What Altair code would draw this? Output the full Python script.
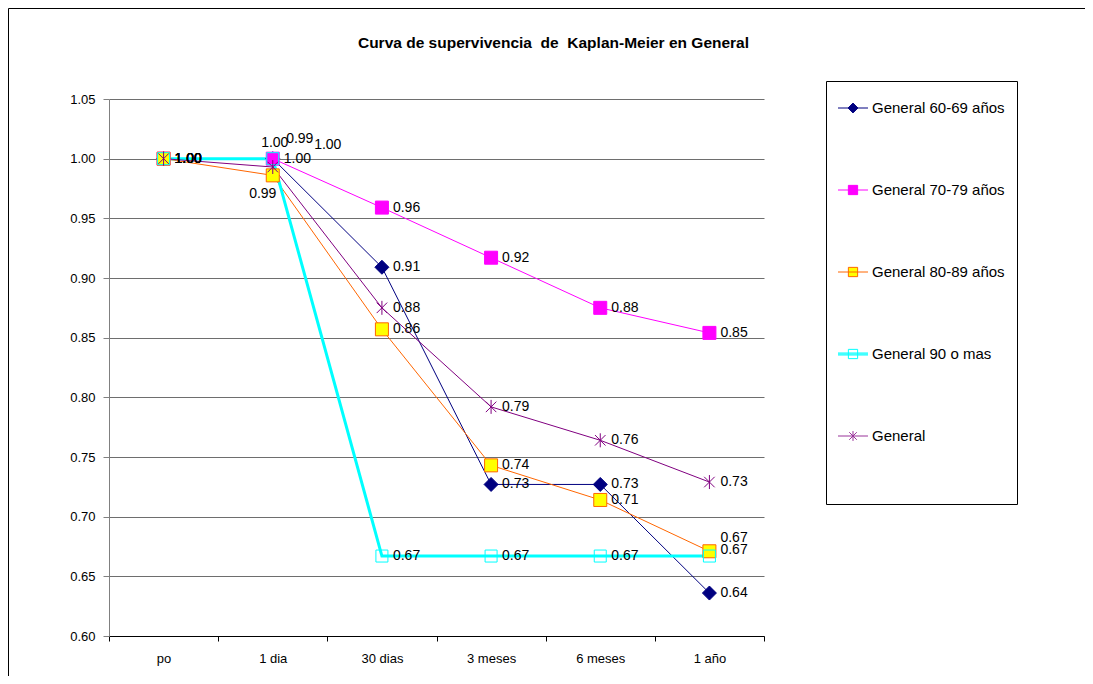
import altair as alt
import pandas as pd

categories = ["po", "1 dia", "30 dias", "3 meses", "6 meses", "1 año"]
series = ["General 60-69 años", "General 70-79 años", "General 80-89 años",
          "General 90 o mas", "General"]
v_60_69 = [1.00, 1.00, 0.909, 0.727, 0.727, 0.636]
v_70_79 = [1.00, 1.00, 0.959, 0.917, 0.875, 0.854]
v_80_89 = [1.00, 0.986, 0.857, 0.743, 0.714, 0.671]
v_90 = [1.00, 1.00, 0.667, 0.667, 0.667, 0.667]
v_general = [1.00, 0.993, 0.875, 0.792, 0.764, 0.729]
y_ticks = [0.60, 0.65, 0.70, 0.75, 0.80, 0.85, 0.90, 0.95, 1.00, 1.05]
title_text = "Curva de supervivencia\u00a0 de\u00a0 Kaplan-Meier en General"

rows = []
for s, vals in zip(series, [v_60_69, v_70_79, v_80_89, v_90, v_general]):
    for c, v in zip(categories, vals):
        rows.append({"series": s, "cat": c, "value": v})
df = pd.DataFrame(rows)

FONT = "Liberation Sans"
STAR = "M0,-1L0,1M-0.75,-0.75L0.75,0.75M-0.75,0.75L0.75,-0.75"

styles = {
    "General 60-69 años": dict(line="#000080", lw=1, shape="diamond", fill="#000080", stroke="#000080", size=196, filled=True),
    "General 70-79 años": dict(line="#FF00FF", lw=1, shape="square", fill="#FF00FF", stroke="#FF00FF", size=169, filled=True),
    "General 80-89 años": dict(line="#FF6600", lw=1, shape="square", fill="#FFFF00", stroke="#FF6600", size=169, filled=True),
    "General 90 o mas": dict(line="#00FFFF", lw=3, shape="square", fill="transparent", stroke="#00FFFF", size=144, filled=False),
    "General": dict(line="#800080", lw=1, shape=STAR, fill="transparent", stroke="#800080", size=196, filled=False),
}

x_enc = alt.X("cat:N", sort=categories,
              scale=alt.Scale(domain=categories, paddingInner=0, paddingOuter=0),
              axis=alt.Axis(title=None, labelAngle=0, labelFont=FONT, labelFontSize=13,
                            labelColor="black", labelPadding=11, tickBand="extent",
                            tickSize=5, tickColor="black", domainColor="black",
                            grid=False))
y_enc = alt.Y("value:Q", scale=alt.Scale(domain=[0.60, 1.05], nice=False, zero=False),
              axis=alt.Axis(title=None, values=y_ticks, format=".2f", labelFont=FONT,
                            labelFontSize=13, labelColor="black", tickSize=6,
                            labelPadding=8, tickColor="#808080", domainColor="#808080",
                            grid=True, gridColor="#6e6e6e", gridWidth=1))

base = alt.Chart(df)

# frame (decoration around the chart area)
frame = alt.Chart(alt.Data(values=[{}])).mark_rect(
    fill="transparent", stroke="black", strokeWidth=1
).encode(x=alt.value(-100.5), y=alt.value(-90.5), x2=alt.value(2000), y2=alt.value(2000))

layers = [frame]
for s in series:
    st = styles[s]
    layers.append(base.transform_filter(alt.datum.series == s).mark_line(
        color=st["line"], strokeWidth=st["lw"]).encode(x=x_enc, y=y_enc))
for s in series:
    st = styles[s]
    layers.append(base.transform_filter(alt.datum.series == s).mark_point(
        shape=st["shape"], filled=st["filled"], fill=st["fill"], stroke=st["stroke"],
        strokeWidth=1, size=st["size"], opacity=1).encode(x=x_enc, y=y_enc))

# legend-only layer (line + marker symbols)
L = "M-1.034,0L1.034,0"
SQ = "M-0.32,-0.32L0.32,-0.32L0.32,0.32L-0.32,0.32Z"
legend_paths = [
    L + "M0,-0.34L0.34,0L0,0.34L-0.34,0Z",
    L + SQ,
    L + SQ,
    "M-1.034,-0.069L1.034,-0.069M-1.034,0L1.034,0M-1.034,0.069L1.034,0.069" + SQ,
    L + "M0,-0.34L0,0.34M-0.26,-0.26L0.26,0.26M-0.26,0.26L0.26,-0.26",
]
legend_fill = ["#000080", "#FF00FF", "#FFFF00", "white", "white"]
legend_stroke = ["#000080", "#FF00FF", "#FF6600", "#00FFFF", "#993399"]

legend_layer = base.transform_filter("false").mark_point(
    filled=True, opacity=1, size=841, strokeWidth=1
).encode(
    x=x_enc, y=y_enc,
    shape=alt.Shape("series:N", title=" ", scale=alt.Scale(domain=series, range=legend_paths)),
    fill=alt.Fill("series:N", title=" ", scale=alt.Scale(domain=series, range=legend_fill)),
    stroke=alt.Stroke("series:N", title=" ", scale=alt.Scale(domain=series, range=legend_stroke)),
)
layers.append(legend_layer)

# value labels
special = [
    ("General 70-79 años", "1 dia", "center", 2, -16),
    ("General", "1 dia", "center", 27, -28),
    ("General 60-69 años", "1 dia", "center", 55, -14),
    ("General 80-89 años", "1 dia", "center", -10, 19),
    ("General 80-89 años", "1 año", "left", 11, -13),
    ("General 90 o mas", "1 año", "left", 11, -6),
]
cond = " || ".join(f"(datum.series == '{s}' && datum.cat == '{c}')" for s, c, *_ in special)
text_kw = dict(font=FONT, fontSize=14, color="black", baseline="middle")
layers.append(base.transform_filter(f"!({cond})").mark_text(align="left", dx=11, **text_kw).encode(
    x=x_enc, y=y_enc, text=alt.Text("value:Q", format=".2f")))
for s, c, al, dx, dy in special:
    layers.append(base.transform_filter(f"datum.series == '{s}' && datum.cat == '{c}'").mark_text(
        align=al, dx=dx, dy=dy, **text_kw).encode(
        x=x_enc, y=y_enc, text=alt.Text("value:Q", format=".2f")))

chart = alt.layer(*layers).properties(
    width=655, height=537,
    autosize=alt.AutoSizeParams(type="none"),
    padding={"left": 101, "top": 91, "right": 321, "bottom": 40},
    title=alt.TitleParams(title_text, font=FONT, fontSize=15.5, fontWeight="bold",
                          color="black", anchor="middle", dx=117, offset=-43),
).configure_view(stroke="transparent").configure_legend(
    orient="none", legendX=717, legendY=-18, padding=12, strokeColor="black",
    strokeWidth=1, fillColor="white", symbolSize=841, symbolStrokeWidth=1,
    symbolOffset=0, labelOffset=4, labelFont=FONT, labelFontSize=15,
    labelColor="black", rowPadding=59, titleOrient="bottom", titleFontSize=10,
    titlePadding=38, labelLimit=300,
)

chart.save("out.html", embed_options={"renderer": "svg", "actions": False})
